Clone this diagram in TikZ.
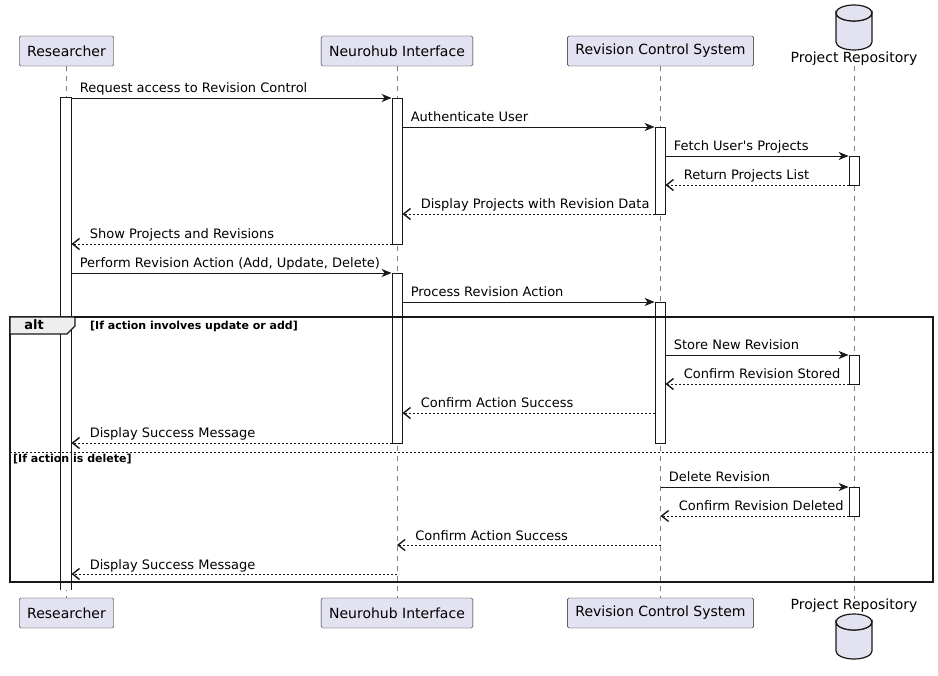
\documentclass[tikz,border=0pt]{standalone}
\usepackage{fontspec}
\setmainfont{DejaVu Sans}[Ligatures=TeXOff]
\usepackage{xcolor}
\usepackage{tikz}
\usetikzlibrary{arrows.meta}

\definecolor{partfill}{HTML}{E2E2F0}
\definecolor{partline}{HTML}{181818}
\definecolor{tabfill}{HTML}{EEEEEE}

\tikzset{
  part/.style={draw=partline, fill=partfill, rounded corners=1.5pt, minimum height=30pt,
    inner xsep=8pt, font=\fontsize{14}{16}\selectfont},
  dbname/.style={inner sep=0pt, font=\fontsize{14}{16}\selectfont},
  life/.style={draw=gray, dash pattern=on 5pt off 5pt, line width=0.6pt},
  actbar/.style={draw=partline, fill=white, minimum width=10pt, inner sep=0pt, line width=0.8pt},
  call/.style={draw=partline, line width=0.8pt, -{Stealth[length=10pt,width=8pt,inset=3pt]}},
  back/.style={draw=partline, line width=0.8pt, dash pattern=on 2pt off 2pt,
    -{Straight Barb[length=7pt,width=11pt,line width=1.4pt]}},
  lbl/.style={font=\fontsize{13}{15}\selectfont, inner sep=0pt, anchor=base west, yshift=5pt},
  cond/.style={font=\bfseries\fontsize{11}{13}\selectfont, inner sep=0pt, anchor=base west}
}

\newcommand\actbox[4]{\node[actbar, minimum height={(#4-#3)*1pt}] (#1) at (#2,{(#3+#4)/2}) {};}
\newcommand\dbcyl[2]{%
  \draw[draw=partline, fill=partfill, line width=1.2pt]
    (#1-18,#2) arc[start angle=180, end angle=360, x radius=18pt, y radius=8pt]
    -- (#1+18,#2+29) arc[start angle=0, end angle=-180, x radius=18pt, y radius=8pt] -- cycle;
  \draw[draw=partline, fill=partfill, line width=1.2pt] (#1,#2) ellipse[x radius=18pt, y radius=8pt];
}

\begin{document}
\begin{tikzpicture}[x=1pt, y=-1pt]
\useasboundingbox (0,0) rectangle (938,676);

% participants
\node[part] (resT) at (66.5,51) {Researcher};
\node[part] (nhT) at (397,51) {Neurohub Interface};
\node[part] (rcsT) at (660.5,51) {Revision Control System};
\node[dbname] (repT) at (854,59) {Project Repository};
\dbcyl{854}{13}

\node[part] (resB) at (66.5,613) {Researcher};
\node[part] (nhB) at (397,613) {Neurohub Interface};
\node[part] (rcsB) at (660.5,613) {Revision Control System};
\node[dbname] (repB) at (854,606) {Project Repository};
\dbcyl{854}{622}

% lifelines
\draw[life] (resT.south) -- (resB.north);
\draw[life] (nhT.south) -- (nhB.north);
\draw[life] (rcsT.south) -- (rcsB.north);
\draw[life] (repT.south) -- (repB.north);

% activations
\node[actbar, draw=none, minimum height=492pt] (ra) at (66,344) {};
\draw[draw=partline, line width=0.8pt] (ra.south west) -- (ra.north west) -- (ra.north east) -- (ra.south east);
\actbox{na1}{397}{98}{244}
\actbox{na2}{397}{273}{443}
\actbox{ca1}{660}{127}{214}
\actbox{ca2}{660}{302}{443}
\actbox{pa1}{854}{156}{185}
\actbox{pa2}{854}{355}{384}
\actbox{pa3}{854}{487}{516}

% messages
\draw[call] (ra.east |- 0,98) -- node[lbl, pos=0, xshift=8pt] {Request access to Revision Control} (na1.west |- 0,98);
\draw[call] (na1.east |- 0,127) -- node[lbl, pos=0, xshift=8pt] {Authenticate User} (ca1.west |- 0,127);
\draw[call] (ca1.east |- 0,156) -- node[lbl, pos=0, xshift=8pt] {Fetch User's Projects} (pa1.west |- 0,156);
\draw[back] (pa1.west |- 0,185) -- node[lbl, pos=1, xshift=18pt] {Return Projects List} (ca1.east |- 0,185);
\draw[back] (ca1.west |- 0,214) -- node[lbl, pos=1, xshift=18pt] {Display Projects with Revision Data} (na1.east |- 0,214);
\draw[back] (na1.west |- 0,244) -- node[lbl, pos=1, xshift=18pt] {Show Projects and Revisions} (ra.east |- 0,244);
\draw[call] (ra.east |- 0,273) -- node[lbl, pos=0, xshift=8pt] {Perform Revision Action (Add, Update, Delete)} (na2.west |- 0,273);
\draw[call] (na2.east |- 0,302) -- node[lbl, pos=0, xshift=8pt] {Process Revision Action} (ca2.west |- 0,302);

% alt frame
\draw[draw=partline, line width=1.5pt] (10,317) rectangle (933,582);
\draw[draw=partline, fill=tabfill, line width=1.2pt] (10,317) -- (75,317) -- (75,326) -- (67,334) -- (10,334) -- cycle;
\node[font=\bfseries\fontsize{13}{15}\selectfont, inner sep=0pt] (altlbl) at (34,325) {alt};
\node[cond] (cond1) at (90,330) {[If action involves update or add]};
\draw[draw=partline, line width=0.8pt, dash pattern=on 2pt off 2pt] (10,452) -- (933,452);
\node[cond] (cond2) at (13,462.5) {[If action is delete]};

\draw[call] (ca2.east |- 0,355) -- node[lbl, pos=0, xshift=8pt] {Store New Revision} (pa2.west |- 0,355);
\draw[back] (pa2.west |- 0,384) -- node[lbl, pos=1, xshift=18pt] {Confirm Revision Stored} (ca2.east |- 0,384);
\draw[back] (ca2.west |- 0,413) -- node[lbl, pos=1, xshift=18pt] {Confirm Action Success} (na2.east |- 0,413);
\draw[back] (na2.west |- 0,443) -- node[lbl, pos=1, xshift=18pt] {Display Success Message} (ra.east |- 0,443);

\draw[call] (rcsT.south |- 0,487) -- node[lbl, pos=0, xshift=8pt] {Delete Revision} (pa3.west |- 0,487);
\draw[back] (pa3.west |- 0,516) -- node[lbl, pos=1, xshift=18pt] {Confirm Revision Deleted} (rcsT.south |- 0,516);
\draw[back] (rcsT.south |- 0,545) -- node[lbl, pos=1, xshift=18pt] {Confirm Action Success} (nhT.south |- 0,545);
\draw[back] (nhT.south |- 0,574) -- node[lbl, pos=1, xshift=18pt] {Display Success Message} (ra.east |- 0,574);
\end{tikzpicture}
\end{document}
